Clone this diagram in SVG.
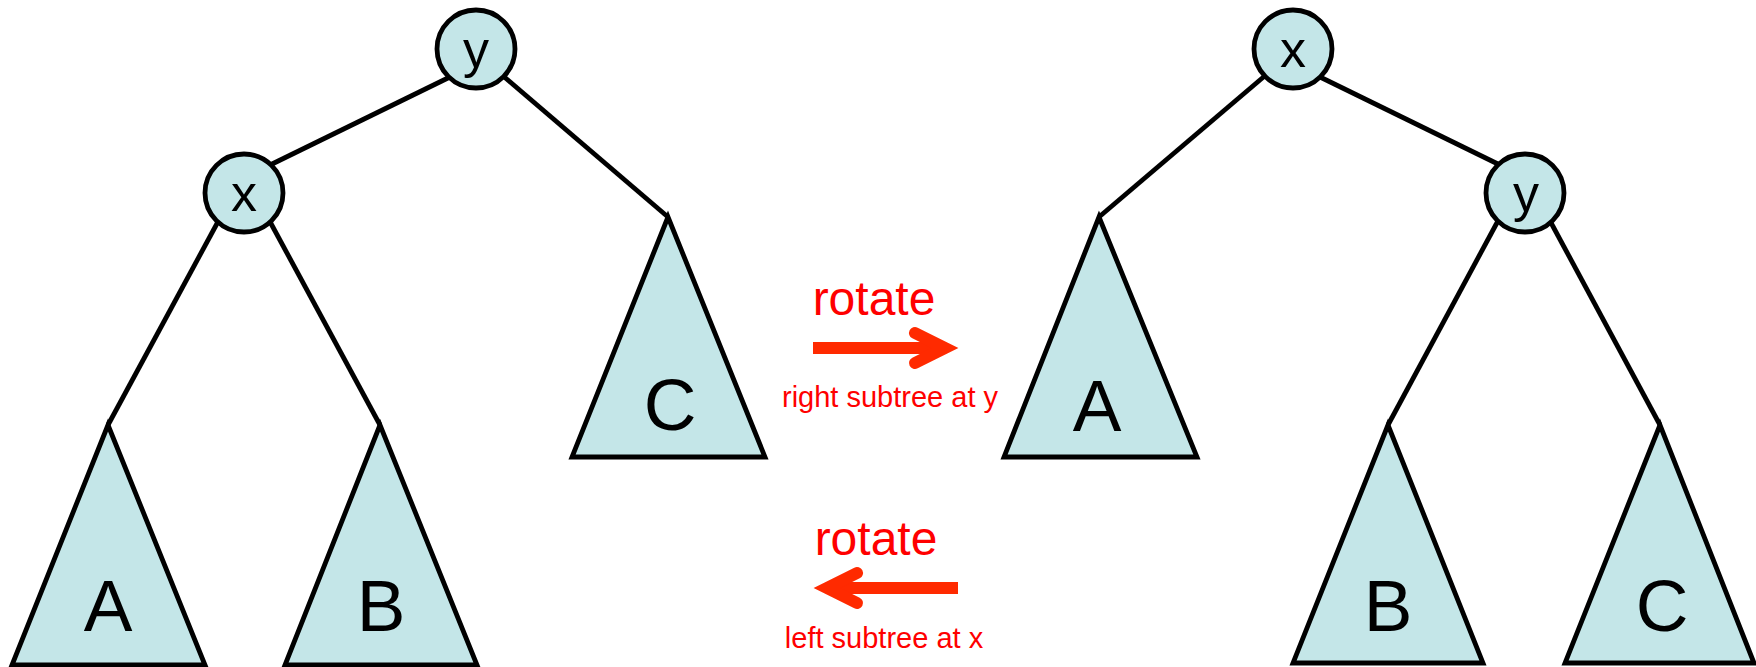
<svg xmlns="http://www.w3.org/2000/svg" width="1756" height="667" viewBox="0 0 1756 667">
<style>
.edge{stroke:#000;stroke-width:4.8;fill:none}
.node{fill:#c4e6e8;stroke:#000;stroke-width:4.8;stroke-linejoin:miter}
.nl{font-family:"Liberation Sans",Arial,sans-serif;font-size:52px;text-anchor:middle;fill:#000}
.tl{font-family:"Liberation Sans",Arial,sans-serif;font-size:73px;text-anchor:middle;fill:#000}
.rl{font-family:"Liberation Sans",Arial,sans-serif;font-size:48px;text-anchor:middle;fill:#ff0000}
.sl{font-family:"Liberation Sans",Arial,sans-serif;font-size:29px;text-anchor:middle;fill:#ff0000}
.arr{stroke:#ff2a00;stroke-width:12;fill:none}
.head{stroke:#ff2a00;stroke-width:12;fill:none;stroke-linecap:round;stroke-linejoin:miter}
</style>
<rect width="1756" height="667" fill="#fff"/>
<g id="connectors">
<line class="edge" x1="452" y1="76" x2="268" y2="166"/>
<line class="edge" x1="502" y1="75" x2="668" y2="217"/>
<line class="edge" x1="220" y1="218" x2="108" y2="425"/>
<line class="edge" x1="268" y1="218" x2="380" y2="425"/>
<line class="edge" x1="1267" y1="74" x2="1099" y2="217"/>
<line class="edge" x1="1318" y1="76" x2="1502" y2="166"/>
<line class="edge" x1="1499" y1="219" x2="1388" y2="425"/>
<line class="edge" x1="1549" y1="219" x2="1660" y2="425"/>
</g>
<g id="left-y"><circle class="node" cx="476" cy="49" r="39"/><text class="nl" x="476" y="67">y</text></g>
<g id="left-x"><circle class="node" cx="244" cy="193" r="39"/><text class="nl" x="244" y="211">x</text></g>
<g id="left-A"><polygon class="node" points="108,425 12,665 205,665"/><text class="tl" x="108" y="631">A</text></g>
<g id="left-B"><polygon class="node" points="380,425 285,665 477,665"/><text class="tl" x="381" y="631">B</text></g>
<g id="left-C"><polygon class="node" points="668,217 572,457 765,457"/><text class="tl" x="670" y="430">C</text></g>
<g id="right-x"><circle class="node" cx="1293" cy="49" r="39"/><text class="nl" x="1293" y="67">x</text></g>
<g id="right-y"><circle class="node" cx="1525" cy="193" r="39"/><text class="nl" x="1526" y="211">y</text></g>
<g id="right-A"><polygon class="node" points="1099,217 1004,457 1197,457"/><text class="tl" x="1097" y="431">A</text></g>
<g id="right-B"><polygon class="node" points="1388,425 1293,663 1483,663"/><text class="tl" x="1388" y="631">B</text></g>
<g id="right-C"><polygon class="node" points="1660,425 1565,663 1754,663"/><text class="tl" x="1662" y="631">C</text></g>
<g id="arrow-right">
<text class="rl" x="874" y="315">rotate</text>
<line class="arr" x1="813" y1="348" x2="942" y2="348"/>
<polyline class="head" points="915,333 945,348 915,363"/>
<text class="sl" x="890" y="407">right subtree at y</text>
</g>
<g id="arrow-left">
<text class="rl" x="876" y="555">rotate</text>
<line class="arr" x1="958" y1="588" x2="830" y2="588"/>
<polyline class="head" points="857,573 827,588 857,603"/>
<text class="sl" x="884" y="648">left subtree at x</text>
</g>
</svg>
